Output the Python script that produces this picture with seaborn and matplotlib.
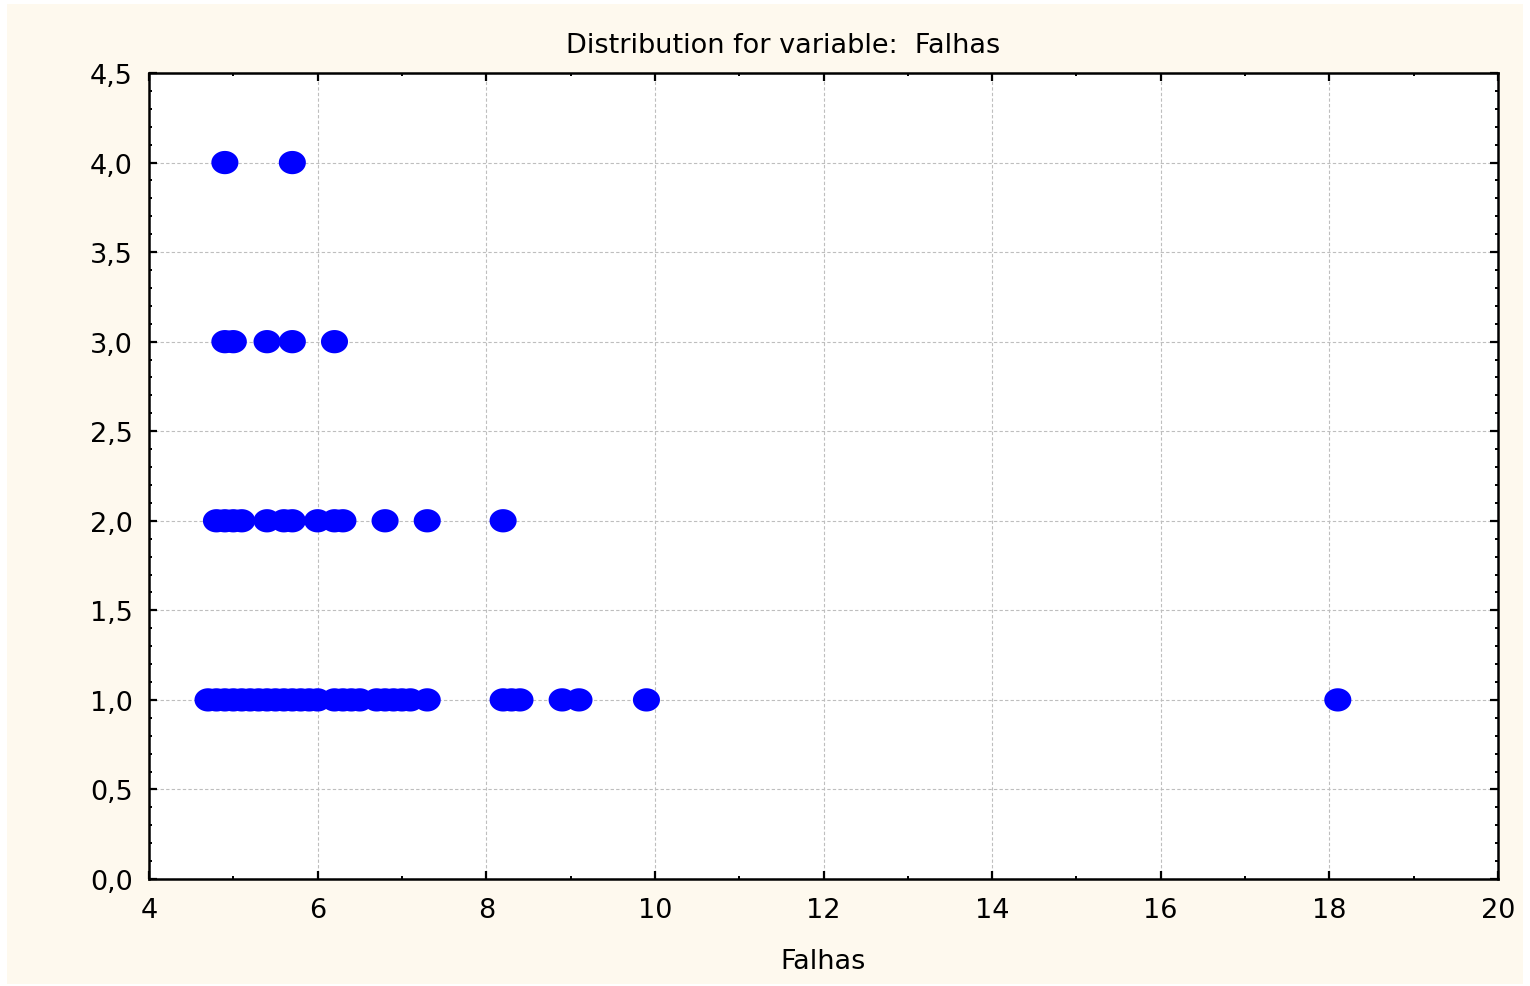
import numpy as np
import pandas as pd
import matplotlib
matplotlib.use("Agg")
import matplotlib.pyplot as plt
import seaborn as sns
from matplotlib.path import Path
from matplotlib.patches import Rectangle
from matplotlib.ticker import MultipleLocator

# ---- data ----
falhas_y1 = [4.7, 4.8, 4.9, 5.0, 5.1, 5.2, 5.3, 5.4, 5.5, 5.6, 5.7, 5.8, 5.9, 6.0,
             6.2, 6.3, 6.4, 6.5, 6.7, 6.8, 6.9, 7.0, 7.1, 7.3,
             8.2, 8.3, 8.4, 8.9, 9.1, 9.9, 18.1]
falhas_y2 = [4.8, 4.9, 5.0, 5.1, 5.4, 5.6, 5.7, 6.0, 6.2, 6.3, 6.8, 7.3, 8.2]
falhas_y3 = [4.9, 5.0, 5.4, 5.7, 6.2]
falhas_y4 = [4.9, 5.7]
counts = [1, 2, 3, 4]

x_ticks = [4, 6, 8, 10, 12, 14, 16, 18, 20]
x_tick_labels = ["4", "6", "8", "10", "12", "14", "16", "18", "20"]
y_ticks = [0.0, 0.5, 1.0, 1.5, 2.0, 2.5, 3.0, 3.5, 4.0, 4.5]
y_tick_labels = ["0,0", "0,5", "1,0", "1,5", "2,0", "2,5", "3,0", "3,5", "4,0", "4,5"]

title = "Distribution for variable:  Falhas"
xlabel = "Falhas"

xs = falhas_y1 + falhas_y2 + falhas_y3 + falhas_y4
ys = ([counts[0]] * len(falhas_y1) + [counts[1]] * len(falhas_y2)
      + [counts[2]] * len(falhas_y3) + [counts[3]] * len(falhas_y4))
df = pd.DataFrame({"Falhas": xs, "y": ys})

# ---- style ----
sns.set_theme(style="white")
plt.rcParams["font.family"] = ["DejaVu Sans"]

cream = "#FEF9EE"
fs = 19.5
fig = plt.figure(figsize=(15.30, 9.87), dpi=100, facecolor="white")
bg = Rectangle((7 / 1530, 1 - 985 / 987), (1523 - 7) / 1530, (985 - 5) / 987,
               transform=fig.transFigure, facecolor=cream, edgecolor="none", zorder=-10)
fig.add_artist(bg)
ax = fig.add_axes([149 / 1530, 1 - 880 / 987, (1498 - 149) / 1530, (880 - 74) / 987])
ax.set_zorder(1)
ax.set_facecolor("white")

# ellipse marker (slightly wider than tall)
t = np.linspace(0, 2 * np.pi, 64)
ell = Path(np.column_stack([np.cos(t), 0.86 * np.sin(t)]), closed=True)

sns.scatterplot(data=df, x="Falhas", y="y", ax=ax, marker=ell, s=380,
                color="#0000FF", edgecolor="none", linewidth=0, zorder=3, legend=False)

ax.set_xlim(4, 20)
ax.set_ylim(0, 4.5)
ax.set_xticks(x_ticks)
ax.set_xticklabels(x_tick_labels)
ax.set_yticks(y_ticks)
ax.set_yticklabels(y_tick_labels)
ax.xaxis.set_minor_locator(MultipleLocator(1))
ax.yaxis.set_minor_locator(MultipleLocator(0.1))

ax.grid(True, which="major", color="#BEBEBE", linestyle=(0, (3, 2)), linewidth=0.8)
ax.set_axisbelow(True)

for sp in ax.spines.values():
    sp.set_color("black")
    sp.set_linewidth(1.8)
    sp.set_visible(True)

ax.tick_params(which="both", direction="in", top=True, right=True, bottom=True, left=True,
               color="black", labelsize=fs, labelcolor="black")
ax.tick_params(which="major", length=6, width=1.6)
ax.tick_params(which="minor", length=2.5, width=1.4)
ax.tick_params(axis="x", which="major", pad=13)
ax.tick_params(axis="y", which="major", pad=11.5)

ax.set_title(title, fontsize=fs, color="black", pad=15, x=(783 - 149) / 1349)
ax.set_xlabel(xlabel, fontsize=fs, color="black")
ax.xaxis.set_label_coords(0.5, -(949 - 880) / 806)
ax.set_ylabel("")

fig.savefig("out.png", dpi=100, facecolor=fig.get_facecolor())
